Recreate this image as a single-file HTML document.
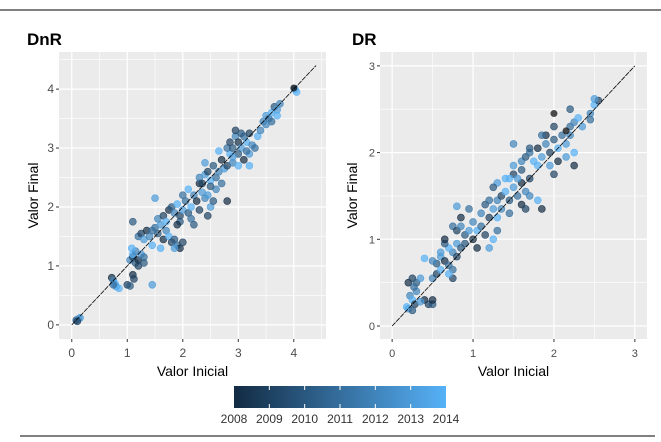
<!DOCTYPE html>
<html><head><meta charset="utf-8"><style>
body{margin:0;background:#fff;}
svg{display:block;font-family:"Liberation Sans",sans-serif;}
</style></head><body>
<svg id="c" width="661" height="442" viewBox="0 0 661 442">
<defs><linearGradient id="cg" x1="0" x2="1"><stop offset="0" stop-color="#132B43"/><stop offset="1" stop-color="#56B1F7"/></linearGradient></defs>
<line x1="0" y1="10" x2="661" y2="10" stroke="#000" stroke-width="1"/>
<line x1="20" y1="436" x2="655" y2="436" stroke="#000" stroke-width="1"/>
<text x="27" y="45" font-size="17" font-weight="bold">DnR</text>
<text x="352" y="45" font-size="17" font-weight="bold">DR</text>
<g id="p1"></g>
<g id="p2"></g>
<g>
<rect x="234" y="386" width="212" height="22" fill="url(#cg)"/>
<g id="leg"></g>
</g>
</svg>
<script>
const legendYears=[2008,2009,2010,2011,2012,2013,2014];
const dnrX=[0.08,0.12,0.15,0.1,0.72,0.75,0.78,0.8,0.85,0.75,1.0,1.05,1.45,1.1,1.12,1.05,1.1,1.15,1.2,1.25,1.3,1.1,1.2,1.3,1.15,1.08,1.1,1.2,1.25,1.3,1.35,1.4,1.45,1.5,1.55,1.6,1.65,1.7,1.75,1.8,1.85,1.9,1.95,2.0,1.85,1.6,1.5,1.55,1.65,1.7,1.45,1.75,1.8,1.85,1.9,1.95,2.0,2.05,2.1,2.15,2.2,2.25,2.3,2.35,2.0,1.95,2.1,2.4,2.5,2.45,2.3,2.2,2.15,1.9,2.3,2.4,2.45,2.5,2.55,2.6,2.65,2.7,2.75,2.8,2.85,2.6,2.5,2.7,2.4,2.35,2.8,2.55,2.9,2.65,2.45,2.8,2.85,2.9,2.95,3.0,3.05,3.1,3.15,3.2,3.25,3.0,3.1,3.2,3.3,3.35,3.4,2.95,3.05,2.9,3.2,3.15,3.0,3.45,3.5,3.55,3.6,3.65,3.7,3.75,3.7,3.6,3.5,4.02,4.05,4.0];
const dnrY=[0.08,0.1,0.12,0.06,0.8,0.75,0.7,0.65,0.62,0.68,0.68,0.66,0.68,0.85,0.78,1.1,1.15,1.05,1.1,1.2,1.15,1.2,1.0,1.05,1.25,1.3,1.75,1.5,1.55,1.45,1.6,1.5,1.35,1.65,1.55,1.7,1.45,1.6,1.5,1.4,1.45,1.35,1.3,1.4,1.3,1.3,2.15,1.8,1.85,1.75,1.6,1.95,2.0,1.9,2.05,1.85,1.95,2.1,1.9,2.0,2.2,2.1,1.95,2.25,2.2,1.75,2.3,2.15,2.0,1.85,2.4,1.7,1.8,1.7,2.5,2.55,2.6,2.45,2.7,2.5,2.6,2.8,2.65,2.7,2.9,2.3,2.35,2.4,2.75,2.4,2.1,2.1,2.75,2.95,2.2,3.0,3.1,3.0,3.2,3.1,3.0,3.2,3.1,3.25,3.05,2.9,2.8,2.9,3.0,3.2,3.3,3.3,3.25,2.85,2.7,2.95,2.7,3.45,3.55,3.5,3.6,3.7,3.65,3.75,3.55,3.45,3.4,4.0,3.95,4.02];
const dnrYear=[2010,2012,2013,2009,2008,2012,2014,2013,2014,2011,2009,2010,2013,2008,2009,2012,2009,2010,2008,2013,2011,2014,2009,2010,2012,2014,2010,2011,2009,2013,2008,2012,2014,2011,2010,2013,2008,2012,2014,2009,2010,2011,2008,2009,2013,2014,2013,2012,2009,2014,2011,2008,2010,2012,2014,2009,2013,2011,2010,2014,2012,2008,2009,2013,2011,2010,2014,2012,2013,2009,2008,2010,2011,2008,2012,2013,2009,2014,2010,2011,2012,2008,2013,2009,2014,2012,2010,2011,2013,2009,2008,2010,2012,2014,2013,2011,2009,2010,2012,2008,2013,2011,2014,2009,2012,2010,2008,2013,2011,2014,2012,2009,2010,2013,2014,2011,2014,2012,2013,2011,2014,2010,2013,2012,2014,2011,2012,2013,2014];
const drX=[0.2,0.25,0.3,0.35,0.22,0.25,0.28,0.2,0.25,0.3,0.4,0.45,0.5,0.5,0.35,0.18,0.27,0.5,0.55,0.6,0.55,0.6,0.65,0.7,0.75,0.8,0.7,0.65,0.6,0.75,0.4,0.5,0.75,0.65,0.8,0.85,0.7,0.75,0.8,0.85,0.9,0.95,1.0,1.05,1.1,1.15,1.0,0.9,1.05,1.2,1.25,1.3,1.2,1.1,1.15,1.25,1.3,0.85,0.95,0.8,1.3,1.35,1.4,1.45,1.5,1.55,1.6,1.65,1.4,1.5,1.55,1.6,1.45,1.6,1.7,1.8,1.65,1.3,1.25,1.2,1.35,1.45,1.85,1.5,1.7,1.6,1.65,1.7,1.75,1.8,1.85,1.9,1.95,2.0,2.05,2.1,2.15,2.2,1.9,2.0,1.8,1.85,1.5,1.7,2.05,2.15,2.25,2.25,2.0,1.95,2.2,2.25,2.3,2.2,2.35,2.45,2.5,2.55,2.5,2.45,2.0,2.15];
const drY=[0.5,0.55,0.5,0.55,0.35,0.3,0.25,0.2,0.18,0.4,0.3,0.25,0.25,0.3,0.28,0.22,0.45,0.55,0.6,0.65,0.72,0.8,0.75,0.7,0.85,0.8,0.9,0.95,0.85,0.65,0.78,0.75,0.55,1.0,0.95,0.9,0.6,1.15,1.1,1.15,1.05,1.1,1.0,1.1,1.15,1.05,1.2,0.95,0.9,0.9,1.0,1.1,1.25,1.3,1.4,1.35,1.25,1.25,1.35,1.38,1.45,1.5,1.55,1.45,1.6,1.5,1.65,1.55,1.7,1.75,1.7,1.8,1.3,1.4,1.5,1.45,1.35,1.65,1.6,1.45,1.35,1.7,1.35,1.85,1.7,1.9,1.95,2.0,1.9,2.05,1.95,2.1,2.0,2.15,2.05,2.2,2.1,2.2,2.2,2.3,1.85,2.2,2.1,2.05,1.9,1.95,2.0,1.85,1.75,1.85,2.3,2.35,2.4,2.5,2.3,2.45,2.55,2.6,2.62,2.38,2.45,2.25];
const drYear=[2008,2009,2010,2013,2012,2014,2009,2013,2010,2012,2008,2009,2010,2008,2013,2014,2011,2012,2009,2014,2010,2013,2008,2011,2012,2009,2014,2010,2013,2011,2014,2012,2009,2008,2013,2010,2014,2011,2009,2012,2010,2013,2008,2014,2011,2009,2012,2010,2008,2013,2014,2011,2009,2012,2010,2013,2014,2008,2011,2013,2012,2009,2014,2010,2013,2011,2008,2012,2014,2009,2013,2010,2011,2008,2012,2014,2009,2013,2010,2011,2012,2014,2008,2013,2009,2012,2010,2011,2014,2008,2013,2012,2009,2010,2014,2011,2013,2012,2008,2009,2014,2011,2012,2010,2008,2013,2014,2008,2009,2013,2011,2012,2014,2010,2013,2012,2014,2009,2013,2011];
const NS='http://www.w3.org/2000/svg';
function mk(p,t,a){const e=document.createElementNS(NS,t);for(const k in a)e.setAttribute(k,a[k]);p.appendChild(e);return e;}
function col(yr){const t=(yr-2008)/6;const a=[0x13,0x2B,0x43],b=[0x56,0xB1,0xF7];return 'rgb('+a.map((v,i)=>Math.round(v+(b[i]-v)*t)).join(',')+')';}
function panel(g,L,R,T,B,xmin,xmax,ymin,ymax,xt,yt,minors,ymin2,xs,ys,yrs,tfs,yl){
  const sx=v=>L+(v-xmin)/(xmax-xmin)*(R-L), sy=v=>B-(v-ymin)/(ymax-ymin)*(B-T);
  const bg=mk(g,'rect',{x:L,y:T,width:R-L,height:B-T,fill:'#EBEBEB'});
  
  minors.x.forEach(v=>{mk(g,'line',{x1:sx(v),x2:sx(v),y1:T,y2:B,stroke:'#fff','stroke-width':0.6});});
  minors.y.forEach(v=>{mk(g,'line',{x1:L,x2:R,y1:sy(v),y2:sy(v),stroke:'#fff','stroke-width':0.6});});
  xt.forEach(v=>{mk(g,'line',{x1:sx(v),x2:sx(v),y1:T,y2:B,stroke:'#fff','stroke-width':1.2});
    mk(g,'line',{x1:sx(v),x2:sx(v),y1:B,y2:B+3,stroke:'#333','stroke-width':1});
    const t=mk(g,'text',{x:sx(v),y:B+18,'font-size':tfs,'text-anchor':'middle',fill:'#4D4D4D'});t.textContent=v;
    });
  yt.forEach(v=>{mk(g,'line',{x1:L,x2:R,y1:sy(v),y2:sy(v),stroke:'#fff','stroke-width':1.2});
    mk(g,'line',{x1:L-3,x2:L,y1:sy(v),y2:sy(v),stroke:'#333','stroke-width':1});
    const t=mk(g,'text',{x:L-5,y:sy(v)+4,'font-size':tfs,'text-anchor':'end',fill:'#4D4D4D'});t.textContent=v;
    });
  for(let i=0;i<xs.length;i++){
    const c=mk(g,'circle',{cx:sx(xs[i]),cy:sy(ys[i]),r:3.5,fill:col(yrs[i]),'fill-opacity':0.7,stroke:col(yrs[i]),'stroke-opacity':0.85,'stroke-width':0.6});
    }
  const d=mk(g,'line',{x1:sx(0),y1:sy(0),x2:sx(ymin2),y2:sy(ymin2),stroke:'#000','stroke-width':0.8,'stroke-dasharray':'5,1'});
  
  const xtT=mk(g,'text',{x:(L+R)/2,y:B+37,'font-size':14,'text-anchor':'middle',fill:'#000'});xtT.textContent='Valor Inicial';
  
  const ytT=mk(g,'text',{x:0,y:0,'font-size':14,'text-anchor':'middle',fill:'#000',transform:'translate('+yl+','+(T+B)/2+') rotate(-90)'});ytT.textContent='Valor Final';
  
}
panel(document.getElementById('p1'),59,326,52,339,-0.23,4.58,-0.24,4.63,[0,1,2,3,4],[0,1,2,3,4],{x:[0.5,1.5,2.5,3.5,4.5],y:[0.5,1.5,2.5,3.5,4.5]},4.4,dnrX,dnrY,dnrYear,12,38);
panel(document.getElementById('p2'),380,647,52,339,-0.15,3.15,-0.15,3.16,[0,1,2,3],[0,1,2,3],{x:[0.5,1.5,2.5],y:[0.5,1.5,2.5]},3,drX,drY,drYear,11,357);
const leg=document.getElementById('leg');
legendYears.forEach((y,i)=>{const x=234+i*212/6;
  if(i>0&&i<6){mk(leg,'line',{x1:x,x2:x,y1:386,y2:390,stroke:'#fff','stroke-width':1});mk(leg,'line',{x1:x,x2:x,y1:404,y2:408,stroke:'#fff','stroke-width':1});}
  const t=mk(leg,'text',{x:x,y:423,'font-size':12,'text-anchor':'middle',fill:'#333'});t.textContent=y;
  });
</script>
</body></html>
